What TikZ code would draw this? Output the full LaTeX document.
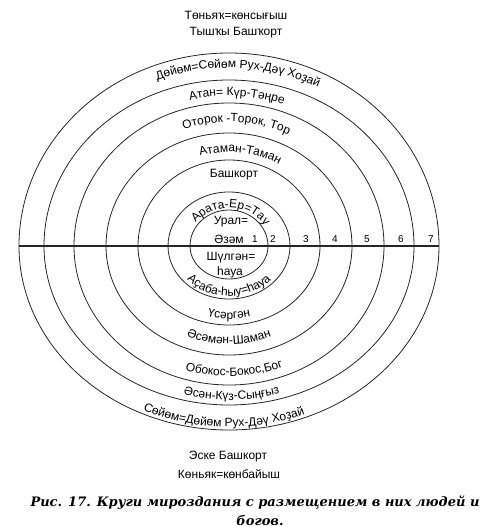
\documentclass[tikz,border=0pt]{standalone}
\usepackage{fontspec}
\setmainfont{Liberation Sans}
\newfontfamily\capfont{DejaVu Serif}
\usetikzlibrary{decorations.text}
\newcommand\lblfont{\fontsize{12}{14}\selectfont}
\newcommand\toparc[4]{% rx, ry, shift(deg), text
  \path[decorate,decoration={text along path,text align=center,text={|\lblfont|#4}}]
    ([shift={(C)}]{180-#3}:#1pt and #2pt) arc[start angle={180-#3}, end angle={-#3}, x radius=#1pt, y radius=#2pt];}
\newcommand\botarc[4]{% rx, ry, shift(deg), text
  \path[decorate,decoration={text along path,text align=center,text={|\lblfont|#4}}]
    ([shift={(C)}]{180+#3}:#1pt and #2pt) arc[start angle={180+#3}, end angle={360+#3}, x radius=#1pt, y radius=#2pt];}
\begin{document}
\begin{tikzpicture}[x=1pt,y=-1pt,
  ringline/.style={draw=black!85,line width=0.8pt},
  lbl/.style={font=\lblfont,inner sep=0pt},
  num/.style={font=\fontsize{10}{12}\selectfont,inner sep=0pt},
  captxt/.style={font=\capfont\bfseries\itshape\fontsize{13}{15}\selectfont,inner sep=0pt}]
\useasboundingbox (0,0) rectangle (502,526);
\coordinate (C) at (229,246);
% rings: upper half and lower half radii differ slightly
\foreach \n/\rx/\ryt/\ryb in {1/39/36/33, 2/61/54/53, 3/91/86/79, 4/123/113/109, 5/155/143/139, 6/185/166/159, 7/210/193/184}
  \draw[ringline] ([shift={(C)}]180:\rx pt and \ryt pt) coordinate (w\n)
     arc[start angle=180,end angle=0,x radius=\rx pt,y radius=\ryt pt] coordinate (e\n)
     arc[start angle=0,end angle=-180,x radius=\rx pt,y radius=\ryb pt];
\draw[line width=1.3pt,black!85] (w7) -- (e7);
% outer labels
\node[lbl] (n1) at (236,15) {Төньяҡ=көнсығыш};
\node[lbl] (n2) at (236,33) {Тышҡы Башҡорт};
\node[lbl] (s1) at (228,457) {Эске Башкорт};
\node[lbl] (s2) at (229,474) {Көньяк=көнбайыш};
% top arcs
\toparc{196}{178}{3}{Дөйөм=Сөйөм Рух-Дәү Хоҙай}
\toparc{164}{150}{3}{Атан= Күр-Тәңре}
\toparc{135}{124}{3.5}{Оторок -Торок, Тор}
\toparc{100}{94}{7}{Атаман-Таман}
\node[lbl] (b3) at (234,175) {Башкорт};
\toparc{42}{38}{3}{Арата-Ер=Тау}
\node[lbl] (u1) at (231,222) {Урал=};
\node[lbl] (u2) at (229,239) {Әзәм};
\node[lbl] (d1) at (231,258) {Шүлгән=};
\node[lbl] (d2) at (230,272) {һауа};
% bottom arcs
\botarc{57}{50}{0}{Аҫаба-һыу=һауа}
\botarc{84}{73}{0}{Үсәргән}
\botarc{111}{98}{0}{Әсәмән-Шаман}
\botarc{145}{130}{2.4}{Обокос-Бокос,Бог}
\botarc{177}{154}{1}{Әсән-Күз-Сыңғыз}
\botarc{206}{181}{-1.7}{Сөйөм=Дөйөм Рух-Дәү Хоҙай}
% numbers
\foreach \i/\x in {1/255,2/273,3/306,4/335,5/367,6/401,7/431}
  \node[num] (k\i) at (\x,239) {\i};
% caption
\node[captxt] (cap1) at (255,503) {Рис. 17. Круги мироздания с размещением в них людей и};
\node[captxt] (cap2) at (260,520) {богов.};
\end{tikzpicture}
\end{document}
